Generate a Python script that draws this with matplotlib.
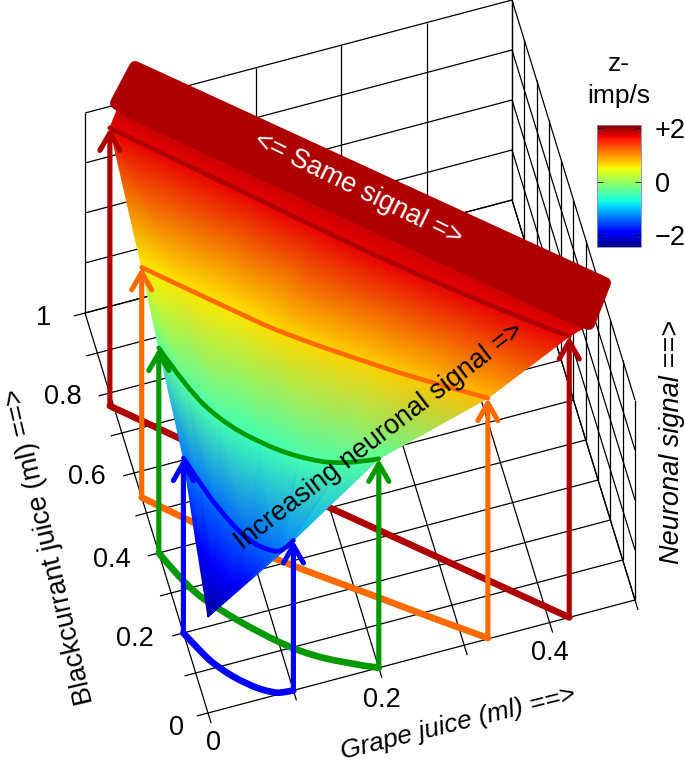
"""
Neuronal signal surface over grape and blackcurrant juice amounts.
"""

import numpy as np
import matplotlib
matplotlib.use("Agg")
import matplotlib.pyplot as plt
from matplotlib.cm import ScalarMappable
from matplotlib.colors import Normalize
from matplotlib.patches import PathPatch, Polygon
from matplotlib.path import Path

plt.rcParams['font.family'] = ['Liberation Sans', 'DejaVu Sans']

# grape (x), blackcurrant (y), height on the surface (z), signal colour (c)
blue_x = [0, .012, .025, .052, .077, .089, .1]
blue_y = [.2, .148, .101, .041, .0065, .001, 0]
blue_z = [.875, .84, .80, .72, .705, .71, .75]
blue_c = [-1.3, -1.35, -1.4, -1.45, -1.4, -1.3, -1.15]

green_x = [0, .019, .047, .083, .12, .163, .2]
green_y = [.4, .304, .231, .153, .085, .033, 0]
green_z = [1.025, .995, .95, .95, .97, .99, 1.045]
green_c = [-.35, -.4, -.45, -.5, -.45, -.4, -.35]

orange_x = [0, .038, .084, .13, .222, .272, .328]
orange_y = [.539, .466, .385, .304, .165, .086, .002]
orange_z = [1.15, 1.155, 1.15, 1.145, 1.155, 1.175, 1.2]
orange_c = [.55, .6, .6, .65, .7, .75, .8]

red_x = [-.004, .13, .192, .266, .345, .385, .423]
red_y = [.77, .526, .415, .282, .14, .068, 0]
red_z = [1.39, 1.38, 1.37, 1.365, 1.38, 1.39, 1.405]
red_c = [1.7, 1.7, 1.7, 1.7, 1.7, 1.7, 1.7]

# row of the surface between the lowest corner and the blue curve
deep_x = [0, .006, .0125, .026, .038, .044, .05]
deep_y = [.1, .074, .05, .02, .003, .0005, 0]
deep_z = [.665, .65, .63, .60, .60, .60, .61]
deep_c = [-1.9, -1.9, -1.9, -1.9, -1.9, -1.85, -1.8]

# upper rim of the coloured part and the flat top
rim_x = [.004, .08, .15, .22, .30, .37, .44]
rim_y = [.76, .626, .499, .371, .226, .098, -.03]
rim_z = [1.5, 1.5, 1.5, 1.5, 1.5, 1.5, 1.5]
rim_c = [1.85, 1.85, 1.85, 1.85, 1.85, 1.85, 1.85]

top_x = [.0362, .4732, .4422, .4287, .011, .0036]
top_y = [.8446, .0577, -.0273, -.0072, .7513, .773]
top_z = 1.5

apex_z = .48
apex_c = -2.35

x_ticks = [0, .1, .2, .3, .4, .5]
y_ticks = [0, .1, .2, .3, .4, .5, .6, .7, .8, .9, 1]
z_ticks = [0, .25, .5, .75, 1]
bar_ticks = [2, 0, -2]
bar_labels = ['+2', '0', '\u22122']

DARK_RED = '#AE0000'
ORANGE = '#FF6A00'
GREEN = '#009900'
BLUE = '#0000FF'


def project(x, y, z=0):
    # the box is drawn without perspective, so this maps straight to pixels
    x, y, z = np.asarray(x, float), np.asarray(y, float), np.asarray(z, float)
    return 208 + 854 * x - 123 * y, 713 - 226 * x - 400 * y - 200 * z


def box_line(ax, x, y, z):
    px, py = project(x, y, z)
    ax.plot(px, py, color='black', lw=0.9, solid_capstyle='butt', zorder=1)


def draw_box(ax):
    for x in x_ticks:
        box_line(ax, [x, x], [-.025, 1], [0, 0])
        box_line(ax, [x, x], [1, 1], [0, 1])
    for y in y_ticks:
        box_line(ax, [-.013, .5], [y, y], [0, 0])
        box_line(ax, [.5, .5], [y, y], [0, 1])
    for z in z_ticks:
        box_line(ax, [0, .5, .5], [1, 1, 0], [z, z, z])


def draw_surface(ax, norm):
    rows = [(deep_x, deep_y, deep_z, deep_c),
            (blue_x, blue_y, blue_z, blue_c),
            (green_x, green_y, green_z, green_c),
            (orange_x, orange_y, orange_z, orange_c),
            (red_x, red_y, red_z, red_c),
            (rim_x, rim_y, rim_z, rim_c)]
    n = len(blue_x)
    xs = np.concatenate([[0], *[r[0] for r in rows]])
    ys = np.concatenate([[0], *[r[1] for r in rows]])
    zs = np.concatenate([[apex_z], *[r[2] for r in rows]])
    cs = np.concatenate([[apex_c], *[r[3] for r in rows]])

    triangles = [[0, 1 + i, 2 + i] for i in range(n - 1)]
    for row in range(len(rows) - 1):
        for i in range(n - 1):
            a = 1 + row * n + i
            b = a + n
            triangles.append([a, a + 1, b])
            triangles.append([a + 1, b + 1, b])

    px, py = project(xs, ys, zs)
    ax.tripcolor(px, py, triangles, cs, shading='gouraud', cmap='jet',
                 norm=norm, zorder=3)

    qx, qy = project(top_x, top_y, top_z)
    ax.add_patch(Polygon(np.column_stack([qx, qy]), closed=True, fc=DARK_RED,
                         ec=DARK_RED, lw=8.6, joinstyle='round', zorder=4))


def smooth_line(ax, px, py, color, lw, zorder):
    # quadratic pieces between the read points so the curve has no corners
    pts = np.column_stack([px, py])
    verts = [pts[0]]
    codes = [Path.MOVETO]
    for i in range(1, len(pts) - 1):
        end = pts[-1] if i == len(pts) - 2 else (pts[i] + pts[i + 1]) / 2
        verts += [pts[i], end]
        codes += [Path.CURVE3, Path.CURVE3]
    ax.add_patch(PathPatch(Path(verts, codes), fc='none', ec=color, lw=lw,
                           capstyle='round', joinstyle='round', zorder=zorder))


def draw_curve(ax, x, y, z, color, floor_lw=4.8, top_lw=3.4):
    # floor curve goes under the surface, the rest on top of it
    fx, fy = project(x, y)
    tx, ty = project(x, y, z)
    smooth_line(ax, fx, fy, color, floor_lw, 2)
    smooth_line(ax, tx, ty, color, top_lw, 5)
    for i in (0, -1):
        ax.annotate('', xy=(tx[i], ty[i]), xytext=(fx[i], fy[i]), zorder=6,
                    arrowprops=dict(arrowstyle='->,head_length=1.25,head_width=.72',
                                    mutation_scale=10, color=color, lw=3.7,
                                    shrinkA=0, shrinkB=0))


def main():
    fig = plt.figure(figsize=(6.85, 7.63), dpi=100)
    ax = fig.add_axes([0, 0, 1, 1])
    ax.set_xlim(0, 685)
    ax.set_ylim(763, 0)
    ax.axis('off')

    norm = Normalize(vmin=-2.44, vmax=2.12)

    draw_box(ax)
    draw_surface(ax, norm)
    draw_curve(ax, red_x, red_y, red_z, DARK_RED)
    draw_curve(ax, orange_x, orange_y, orange_z, ORANGE)
    draw_curve(ax, green_x, green_y, green_z, GREEN)
    draw_curve(ax, blue_x, blue_y, blue_z, BLUE)

    # axis numbers
    size = 19.5
    for label, pos in [('1', (44, 318)), ('0.8', (63, 397)), ('0.6', (87, 477)),
                       ('0.4', (112, 560)), ('0.2', (135, 639)), ('0', (177, 728))]:
        ax.text(*pos, label, fontsize=size, ha='center', va='center')
    for label, pos in [('0', (214, 743)), ('0.2', (382, 700)), ('0.4', (550, 653))]:
        ax.text(*pos, label, fontsize=size, ha='center', va='center')

    ax.text(458, 723, 'Grape juice (ml) ==>', fontsize=19, rotation=14,
            rotation_mode='anchor', ha='center', va='center', style='italic')
    ax.text(50, 546, 'Blackcurrant juice (ml) ==>', fontsize=19.5, rotation=103,
            rotation_mode='anchor', ha='center', va='center')
    ax.text(672, 442, 'Neuronal signal ==>', fontsize=19.5, rotation=90,
            rotation_mode='anchor', ha='center', va='center', style='italic')
    ax.text(358, 189, '<= Same signal =>', fontsize=19.5, rotation=-26,
            rotation_mode='anchor', ha='center', va='center', color='white',
            zorder=7)
    ax.text(379, 436, 'Increasing neuronal signal =>', fontsize=19.5, rotation=37.5,
            rotation_mode='anchor', ha='center', va='center', zorder=7)

    ax.text(619, 64, 'z-', fontsize=19, ha='center', va='center')
    ax.text(619, 96, 'imp/s', fontsize=19, ha='center', va='center')

    # colour bar
    cax = fig.add_axes([597 / 685, 1 - 247 / 763, 44 / 685, 122 / 763])
    bar = fig.colorbar(ScalarMappable(norm=norm, cmap='jet'), cax=cax)
    bar.set_ticks(bar_ticks, labels=bar_labels)
    bar.ax.tick_params(direction='in', length=4, width=0.6, left=True, right=True,
                       labelsize=19.5, pad=10)
    bar.outline.set_edgecolor('#8888BB')
    bar.outline.set_linewidth(0.6)

    fig.savefig('out.png', dpi=100)


if __name__ == "__main__":
    main()
